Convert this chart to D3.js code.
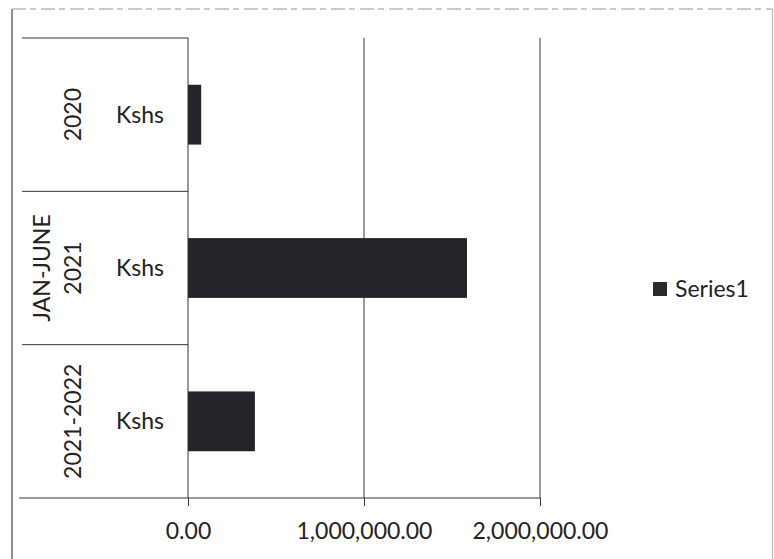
<!DOCTYPE html>
<html>
<head>
<meta charset="utf-8">
<script src="https://cdn.jsdelivr.net/npm/d3@7"></script>
<style>
  html, body { margin: 0; padding: 0; background: #fff; }
  svg { display: block; }
  text { font-family: Lato, "Open Sans", sans-serif; fill: #222; }
</style>
</head>
<body>
<script>
// Category rows: outer group label (may wrap to two lines) and inner unit label
const groups = [["2020"], ["JAN-JUNE", "2021"], ["2021-2022"]];
const units = ["Kshs", "Kshs", "Kshs"];
const categories = ["2020", "JAN-JUNE 2021", "2021-2022"];
const values = [75000, 1585000, 380000];
const xTicks = [0, 1000000, 2000000];
const seriesName = "Series1";

const W = 774, H = 559;
const svg = d3.select("body").append("svg").attr("width", W).attr("height", H);

// chart frame
svg.append("line").attr("x1", 12).attr("x2", 12).attr("y1", 9).attr("y2", 559)
  .attr("stroke", "#444").attr("stroke-width", 1.2);
svg.append("line").attr("x1", 12).attr("x2", 772).attr("y1", 9).attr("y2", 9)
  .attr("stroke", "#bbb").attr("stroke-width", 1.5).attr("stroke-dasharray", "14 4 6 5");
svg.append("line").attr("x1", 772.5).attr("x2", 772.5).attr("y1", 9).attr("y2", 559)
  .attr("stroke", "#bbb").attr("stroke-width", 1.2);

const plotTop = 38, plotBottom = 498;
const labelLeft = 22;

const x = d3.scaleLinear().domain([0, 2000000]).range([188, 540]);
const y = d3.scaleBand().domain(categories).range([plotTop, plotBottom])
  .paddingInner(0.61).paddingOuter(0.305);

const step = y.step();
const rowTop = i => plotTop + i * (plotBottom - plotTop) / categories.length;

// vertical gridlines
svg.append("g").selectAll("line").data(xTicks.filter(d => d > 0)).join("line")
  .attr("x1", d => x(d)).attr("x2", d => x(d))
  .attr("y1", plotTop).attr("y2", plotBottom)
  .attr("stroke", "#333").attr("stroke-width", 1);

// category table separators
svg.append("g").selectAll("line").data(d3.range(categories.length)).join("line")
  .attr("x1", labelLeft).attr("x2", x(0))
  .attr("y1", i => rowTop(i)).attr("y2", i => rowTop(i))
  .attr("stroke", "#333").attr("stroke-width", 1);

// bars
svg.append("g").selectAll("rect").data(values).join("rect")
  .attr("x", x(0))
  .attr("y", (d, i) => y(categories[i]))
  .attr("width", d => x(d) - x(0))
  .attr("height", y.bandwidth())
  .attr("fill", "#232329");

// value axis at bottom
const xAxis = d3.axisBottom(x).tickValues(xTicks)
  .tickFormat(d3.format(",.2f")).tickSizeInner(8).tickSizeOuter(0).tickPadding(17);
const gx = svg.append("g").attr("transform", `translate(0,${plotBottom})`).call(xAxis);
gx.select(".domain").remove();
gx.selectAll(".tick line").attr("stroke", "#333");
gx.selectAll(".tick text").attr("font-size", 23).attr("fill", "#222")
  .style("font-family", "Lato, 'Open Sans', sans-serif");
svg.append("line").attr("x1", labelLeft - 3).attr("x2", x(2000000))
  .attr("y1", plotBottom).attr("y2", plotBottom)
  .attr("stroke", "#333").attr("stroke-width", 1);

// category axis line
svg.append("line").attr("x1", x(0)).attr("x2", x(0))
  .attr("y1", plotTop).attr("y2", plotBottom)
  .attr("stroke", "#333").attr("stroke-width", 1);

// outer (rotated) group labels
const outerX = 73, lineGap = 31;
categories.forEach((c, i) => {
  const cy = y(c) + y.bandwidth() / 2;
  const lines = groups[i];
  const t = svg.append("text")
    .attr("transform", `translate(${outerX},${cy}) rotate(-90)`)
    .attr("text-anchor", "middle").attr("font-size", 23);
  lines.forEach((ln, k) => {
    const dy = (k - (lines.length - 1)) * lineGap;
    t.append("tspan").attr("x", 0).attr("y", dy).attr("dy", "0.35em").text(ln);
  });
  svg.append("text")
    .attr("x", 140).attr("y", cy).attr("dy", "0.35em")
    .attr("text-anchor", "middle").attr("font-size", 23)
    .text(units[i]);
});

// legend
const lg = svg.append("g").attr("transform", "translate(653,282)");
lg.append("rect").attr("width", 14).attr("height", 14).attr("fill", "#2a2a30");
lg.append("text").attr("x", 22).attr("y", 7).attr("dy", "0.35em")
  .attr("font-size", 23).text(seriesName);
</script>
</body>
</html>
